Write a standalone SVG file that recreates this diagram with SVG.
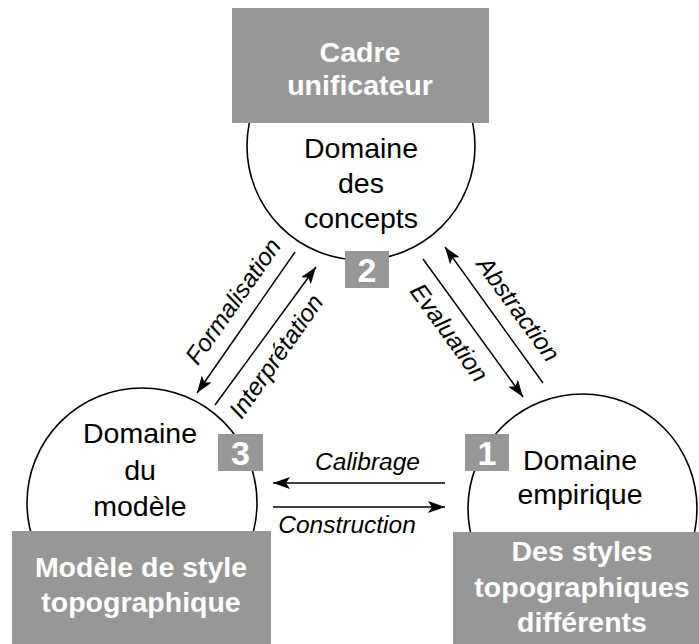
<svg xmlns="http://www.w3.org/2000/svg" width="699" height="644" viewBox="0 0 699 644">
<style>
.circ{fill:#fff;stroke:#000;stroke-width:1.6}
.box{fill:#979797}
.bt{font-family:"Liberation Sans",Arial,sans-serif;font-weight:bold;font-size:28.5px;fill:#fff;text-anchor:middle}
.ct{font-family:"Liberation Sans",Arial,sans-serif;font-size:28.5px;fill:#000;text-anchor:middle}
.num{font-family:"Liberation Sans",Arial,sans-serif;font-weight:bold;font-size:34px;fill:#fff;text-anchor:middle}
.lbl{font-family:"Liberation Sans",Arial,sans-serif;font-style:italic;font-size:24.5px;fill:#000;text-anchor:middle}
.arr{stroke:#000;stroke-width:1.5;fill:none;marker-end:url(#ah)}
</style>
<defs>
<marker id="ah" markerUnits="userSpaceOnUse" markerWidth="18" markerHeight="12" viewBox="0 0 18 12" refX="17" refY="6" orient="auto">
<path d="M0,0 L17,6 L0,12 L4,6 z" fill="#000"/>
</marker>
</defs>
<g id="node-concepts">
<circle class="circ" cx="361" cy="146" r="114"/>
<rect class="box" x="232" y="8" width="257" height="115"/>
<text class="bt" x="360" y="62">Cadre</text>
<text class="bt" x="360" y="95">unificateur</text>
<text class="ct" x="361" y="158">Domaine</text>
<text class="ct" x="361" y="193">des</text>
<text class="ct" x="361" y="228">concepts</text>
<rect class="box" x="345" y="251" width="44" height="37"/>
<text class="num" x="367" y="282">2</text>
</g>
<g id="node-modele">
<circle class="circ" cx="142" cy="503" r="115"/>
<rect class="box" x="12" y="531" width="259" height="113"/>
<text class="bt" x="141" y="577">Modèle de style</text>
<text class="bt" x="141" y="612">topographique</text>
<text class="ct" x="140" y="443">Domaine</text>
<text class="ct" x="140" y="480">du</text>
<text class="ct" x="140" y="516">modèle</text>
<rect class="box" x="218" y="434" width="45" height="37"/>
<text class="num" x="240.5" y="465">3</text>
</g>
<g id="node-empirique">
<circle class="circ" cx="582.5" cy="508.5" r="114.5"/>
<rect class="box" x="453" y="532" width="246" height="112"/>
<text class="bt" x="582" y="561">Des styles</text>
<text class="bt" x="582" y="597">topographiques</text>
<text class="bt" x="582" y="632">différents</text>
<text class="ct" x="580" y="470">Domaine</text>
<text class="ct" x="580" y="504">empirique</text>
<rect class="box" x="465" y="434" width="44" height="37"/>
<text class="num" x="487" y="465">1</text>
</g>
<g id="connectors">
<line class="arr" x1="295" y1="252" x2="197" y2="393"/>
<line class="arr" x1="215" y1="405" x2="316" y2="267"/>
<line class="arr" x1="423" y1="259" x2="523" y2="397"/>
<line class="arr" x1="543" y1="383" x2="445" y2="247"/>
<line class="arr" x1="445" y1="483" x2="273" y2="483"/>
<line class="arr" x1="273" y1="507" x2="445" y2="507"/>
<text class="lbl" transform="translate(240,306) rotate(-55)">Formalisation</text>
<text class="lbl" transform="translate(283,361) rotate(-55)">Interprétation</text>
<text class="lbl" transform="translate(442.5,337.5) rotate(54)">Evaluation</text>
<text class="lbl" transform="translate(511.5,314) rotate(54)">Abstraction</text>
<text class="lbl" x="367.5" y="470">Calibrage</text>
<text class="lbl" x="347" y="533">Construction</text>
</g>
</svg>
